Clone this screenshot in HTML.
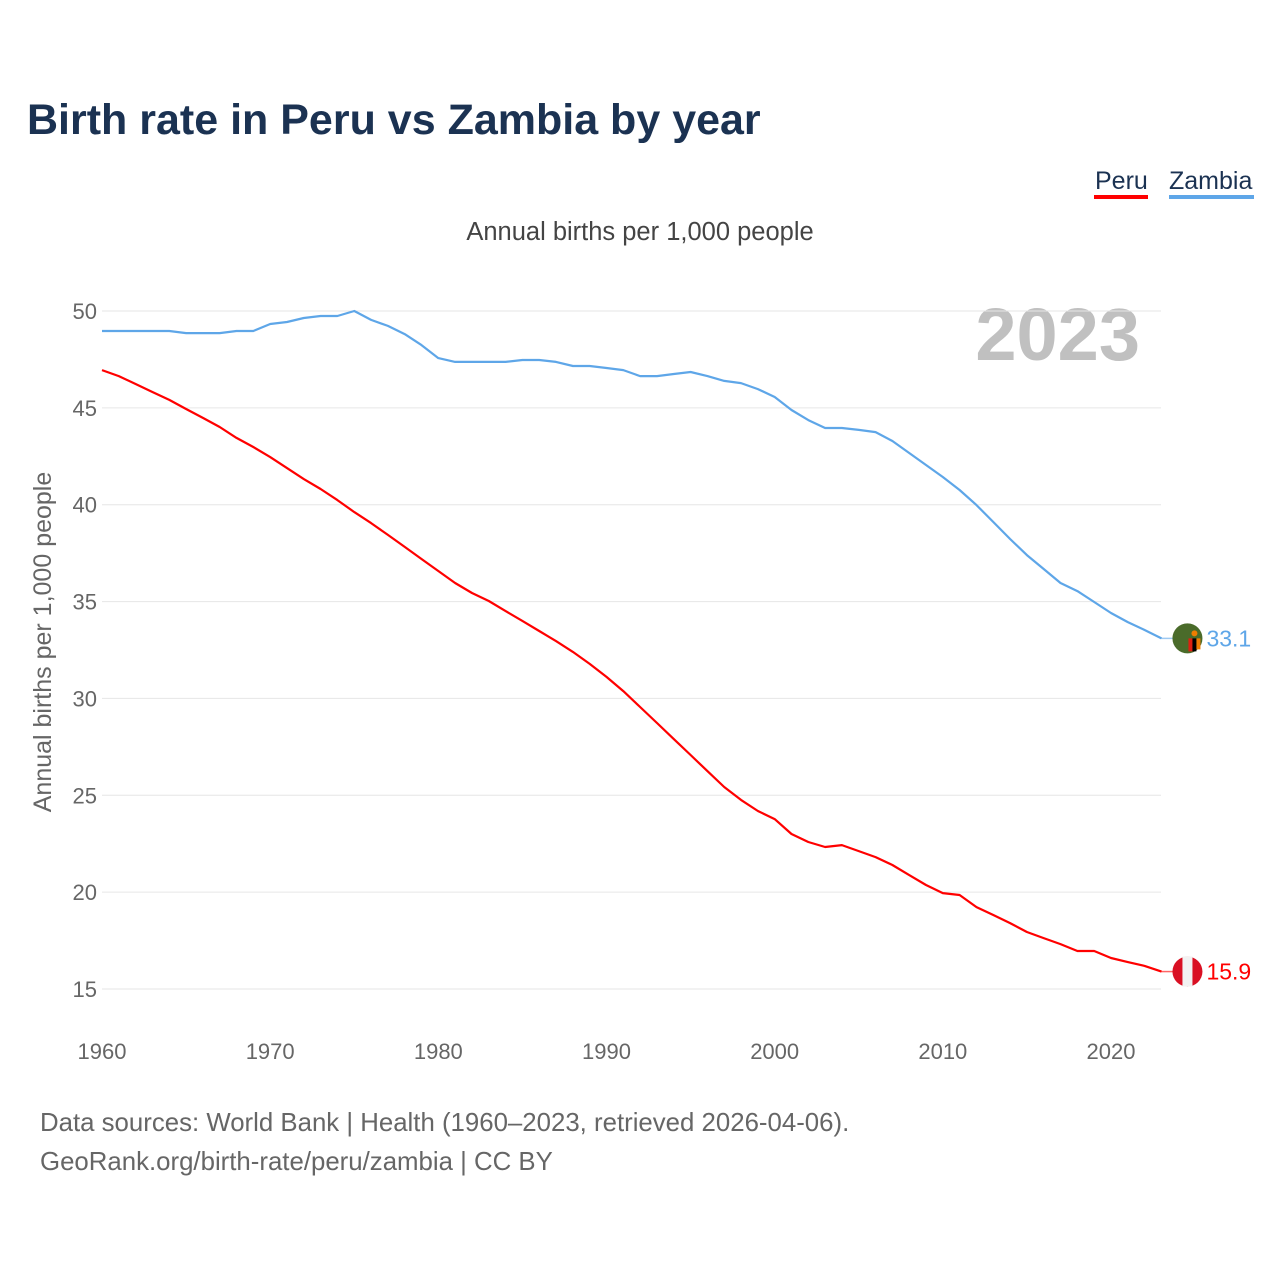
<!DOCTYPE html>
<html><head><meta charset="utf-8">
<style>
body{margin:0;background:#fff;font-family:"Liberation Sans",sans-serif;}
#wrap{position:relative;width:1280px;height:1280px;overflow:hidden;}
</style></head>
<body>
<div id="wrap">
<svg id="chart" width="1280" height="1280">
  <text x="27" y="134" font-size="43" font-weight="bold" fill="#1b3252">Birth rate in Peru vs Zambia by year</text>
  <g>
    <text x="1095" y="189" font-size="25" fill="#1b3252">Peru</text>
    <rect x="1094" y="195" width="54" height="4" fill="#ff0000"/>
  </g>
  <g>
    <text x="1169" y="189" font-size="25" fill="#1b3252">Zambia</text>
    <rect x="1169" y="195" width="85" height="4" fill="#5ea6e8"/>
  </g>
  <text x="640" y="240" font-size="25.5" fill="#444" text-anchor="middle">Annual births per 1,000 people</text>
  <text x="1140" y="360" font-size="74" font-weight="bold" fill="#c0c0c0" text-anchor="end">2023</text>
  <text transform="translate(51,642) rotate(-90)" font-size="25" fill="#666" text-anchor="middle">Annual births per 1,000 people</text>
  <g id="grid"></g>
  <g id="lines"></g>
  <text x="40" y="1131" font-size="25.8" fill="#666">Data sources: World Bank | Health (1960–2023, retrieved 2026-04-06).</text>
  <text x="40" y="1170" font-size="25.8" fill="#666">GeoRank.org/birth-rate/peru/zambia | CC BY</text>
</svg>
</div>
<script>
const years=[];for(let y=1960;y<=2023;y++)years.push(y);
const peru=[46.95,46.64,46.23,45.82,45.41,44.94,44.48,44.01,43.45,42.98,42.46,41.89,41.32,40.81,40.24,39.62,39.05,38.44,37.82,37.20,36.58,35.96,35.44,35.03,34.51,34.00,33.48,32.96,32.40,31.78,31.11,30.38,29.56,28.73,27.90,27.08,26.25,25.43,24.76,24.19,23.77,23.00,22.59,22.33,22.43,22.12,21.81,21.40,20.88,20.37,19.95,19.85,19.23,18.82,18.40,17.94,17.63,17.32,16.96,16.96,16.60,16.39,16.19,15.9];
const zambia=[48.97,48.97,48.97,48.97,48.97,48.86,48.86,48.86,48.97,48.97,49.33,49.43,49.64,49.74,49.74,50.0,49.54,49.23,48.81,48.24,47.57,47.37,47.37,47.37,47.37,47.47,47.47,47.37,47.16,47.16,47.06,46.95,46.64,46.64,46.75,46.85,46.64,46.39,46.28,45.97,45.56,44.89,44.37,43.96,43.96,43.86,43.75,43.29,42.67,42.05,41.43,40.76,39.98,39.11,38.23,37.40,36.68,35.96,35.54,34.98,34.41,33.94,33.53,33.1];
const yTicks=[15,20,25,30,35,40,45,50];
const xTicks=[1960,1970,1980,1990,2000,2010,2020];
const NS="http://www.w3.org/2000/svg";
function X(y){return 102+(y-1960)*(1111-102)/60;}
function Y(v){return 989-(v-15)*(989-311)/35;}
function mk(tag,attrs,parent){const e=document.createElementNS(NS,tag);for(const k in attrs)e.setAttribute(k,attrs[k]);parent.appendChild(e);return e;}
const grid=document.getElementById('grid'),lines=document.getElementById('lines');
yTicks.forEach(t=>{
  const l=mk('line',{x1:102,x2:1161,y1:Y(t),y2:Y(t),stroke:'#e6e6e6','stroke-width':1},grid);
  
  
  const tx=mk('text',{x:97,y:Y(t)+8,'font-size':22,fill:'#666','text-anchor':'end'},grid);tx.textContent=t;
  
  
});
xTicks.forEach(t=>{
  const tx=mk('text',{x:X(t),y:1059,'font-size':22,fill:'#666','text-anchor':'middle'},grid);tx.textContent=t;
  
  
});
function series(vals,color,name){
  const d=vals.map((v,i)=>(i?'L':'M')+X(years[i]).toFixed(1)+','+Y(v).toFixed(1)).join('');
  const p=mk('path',{d:d,fill:'none',stroke:color,'stroke-width':2.2,'stroke-linejoin':'round'},lines);
  
  
  const last=vals[vals.length-1],lx=X(years[years.length-1]),ly=Y(last);
  mk('line',{x1:lx,x2:lx+12,y1:ly,y2:ly,stroke:color,'stroke-width':1.5,opacity:0.6},lines);
  const g=mk('g',{},lines);
  
  
  const cx=lx+26;
  if(name==='peru'){
    mk('circle',{cx:cx,cy:ly,r:15,fill:'#d91023'},g);
    mk('rect',{x:cx-5,y:ly-15,width:10,height:30,fill:'#f2f2f2'},g);
  }else{
    mk('circle',{cx:cx,cy:ly,r:15,fill:'#4a6b2a'},g);
    mk('rect',{x:cx+1,y:ly,width:4,height:13,fill:'#de2010'},g);
    mk('rect',{x:cx+5,y:ly,width:4,height:13,fill:'#000'},g);
    mk('rect',{x:cx+9,y:ly,width:4,height:11,fill:'#ef7d00'},g);
    mk('circle',{cx:cx+7,cy:ly-5,r:3,fill:'#ef7d00'},g);
  }
  const t=mk('text',{x:lx+45,y:ly+8,'font-size':23,fill:color},lines);t.textContent=last.toFixed(1);
  
  
}
series(zambia,'#5ea6e8','zambia');
series(peru,'#ff0000','peru');
</script>
</body></html>
